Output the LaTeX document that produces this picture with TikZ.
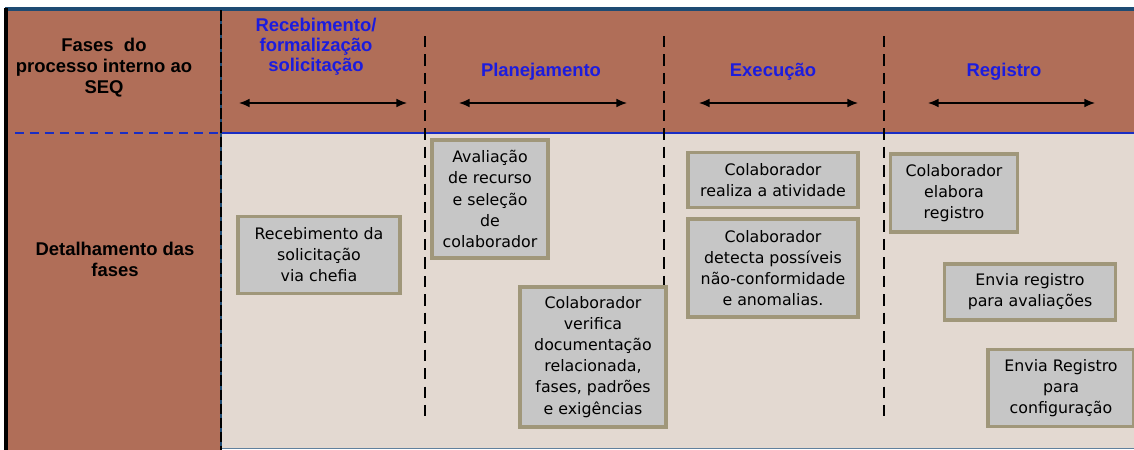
\documentclass[tikz,border=0pt]{standalone}
\usepackage{fontspec}
\setmainfont{Liberation Sans}
\newfontfamily\boxfont{DejaVu Sans}
\usepackage{tikz}
\usetikzlibrary{arrows.meta}
\definecolor{headbrown}{RGB}{176,110,88}
\definecolor{bodybeige}{RGB}{227,217,209}
\definecolor{boxgray}{RGB}{198,198,198}
\definecolor{boxedge}{RGB}{160,151,122}
\definecolor{faseblue}{RGB}{28,28,222}
\definecolor{steelblue}{RGB}{30,75,115}
\definecolor{lineblue}{RGB}{25,45,195}
\tikzstyle{tarefa} = [rectangle, draw=boxedge, line width=2pt, fill=boxgray, align=center, inner sep=2pt, font=\boxfont\fontsize{9}{12}\selectfont]
\tikzstyle{fase} = [text=faseblue, align=center, font=\bfseries\fontsize{10.5}{11.5}\selectfont]
\tikzstyle{rotulo} = [align=center, font=\bfseries\fontsize{10.5}{12}\selectfont]
\tikzstyle{line} = [draw, {Latex[length=6pt,width=5pt]}-{Latex[length=6pt,width=5pt]}, line width=0.9pt]
\tikzstyle{divisa} = [draw, line width=1.3pt, dash pattern=on 6.5pt off 4pt]

\begin{document}
\begin{tikzpicture}[x=0.02cm, y=-0.02cm]
\useasboundingbox (0,0) rectangle (1134,450);
% Background areas
\fill[white] (0,0) rectangle (1134,450);
\fill[headbrown] (8,10) rectangle (221,450);
\fill[headbrown] (221,10) rectangle (1134,133);
\fill[bodybeige] (221,134) rectangle (1134,448);
\draw[steelblue, line width=2pt] (5,9) -- (1134,9);
\draw[black, line width=2pt] (6,8) -- (6,450);
\draw[steelblue!70, line width=1pt] (221,448.5) -- (1134,448.5);
\draw[lineblue, line width=1.4pt] (221,133) -- (1134,133);
\draw[lineblue, line width=1.2pt, dash pattern=on 5pt off 3.5pt] (15,133) -- (221,133);
\draw[steelblue, line width=1.6pt] (221,10) -- (221,450);
\draw[black, line width=1pt, dash pattern=on 6pt off 2pt] (221,10) -- (221,450);
% Row titles
\node [rotulo] (fases) at (104,68) {Fases\ \ do\\processo interno ao\\SEQ};
\node [rotulo] (detalhe) at (115,259) {Detalhamento das\\fases};
% Phase titles
\node [fase] (receb) at (316,47) {Recebimento/\\formaliza\c{c}\~ao\\solicita\c{c}\~ao};
\node [fase] (plan) at (541,72) {Planejamento};
\node [fase] (exec) at (773,72) {Execu\c{c}\~ao};
\node [fase] (reg) at (1004,72) {Registro};
% Phase arrows
\coordinate (r1) at (239,103); \coordinate (r2) at (407,103);
\coordinate (p1) at (459,103); \coordinate (p2) at (627,103);
\coordinate (e1) at (699,103); \coordinate (e2) at (858,103);
\coordinate (g1) at (928,103); \coordinate (g2) at (1095,103);
\path [line] (r1) -- (r2);
\path [line] (p1) -- (p2);
\path [line] (e1) -- (e2);
\path [line] (g1) -- (g2);
% Phase dividers
\coordinate (d1a) at (425,36); \coordinate (d1b) at (425,417);
\coordinate (d2a) at (664,36); \coordinate (d2b) at (664,417);
\coordinate (d3a) at (884,36); \coordinate (d3b) at (884,417);
\path [divisa] (d1a) -- (d1b);
\path [divisa] (d2a) -- (d2b);
\path [divisa] (d3a) -- (d3b);
% Activities
\node [tarefa, minimum width=3.24cm, minimum height=1.54cm] (recsol) at (319,255) {Recebimento da\\solicita\c{c}\~ao\\via chefia};
\node [tarefa, minimum width=2.32cm, minimum height=2.36cm] (avalia) at (490,199) {Avalia\c{c}\~ao\\de recurso\\e sele\c{c}\~ao\\de\\colaborador};
\node [tarefa, minimum width=2.92cm, minimum height=2.8cm] (verifica) at (593,357) {Colaborador\\verifica\\documenta\c{c}\~ao\\relacionada,\\fases, padr\~oes\\e exig\^encias};
\node [tarefa, minimum width=3.4cm, minimum height=1.1cm] (realiza) at (773,180) {Colaborador\\realiza a atividade};
\node [tarefa, minimum width=3.4cm, minimum height=1.96cm] (detecta) at (773,268) {Colaborador\\detecta poss\'iveis\\n\~ao-conformidade\\e anomalias.};
\node [tarefa, minimum width=2.54cm, minimum height=1.56cm] (elabora) at (954,193) {Colaborador\\elabora\\registro};
\node [tarefa, minimum width=3.42cm, minimum height=1.12cm] (enviaav) at (1030,292) {Envia registro\\para avalia\c{c}\~oes};
\node [tarefa, minimum width=2.92cm, minimum height=1.54cm] (enviacf) at (1061,388) {Envia Registro\\para\\configura\c{c}\~ao};
\end{tikzpicture}
\end{document}
